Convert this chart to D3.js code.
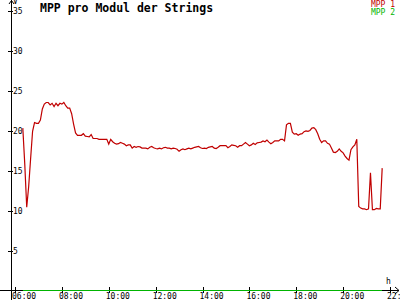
<!DOCTYPE html>
<html>
<head>
<meta charset="utf-8">
<script src="https://cdn.jsdelivr.net/npm/d3@7"></script>
<style>
  body { margin: 0; background: #fff; }
  svg { display: block; }
  text { font-family: "DejaVu Sans Mono", monospace; }
</style>
</head>
<body>
<svg id="chart" width="400" height="300"></svg>
<script>
const title = "MPP pro Modul der Strings";
const seriesNames = ["MPP 1", "MPP 2"];

const times = [
  "06:20", "06:25", "06:30", "06:35", "06:40", "06:45", "06:50", "06:55",
  "07:00", "07:05", "07:10", "07:15", "07:20", "07:25", "07:30", "07:35", "07:40", "07:45", "07:50", "07:55",
  "08:00", "08:05", "08:10", "08:15", "08:20", "08:25", "08:30", "08:35", "08:40", "08:45", "08:50", "08:55",
  "09:00", "09:05", "09:10", "09:15", "09:20", "09:25", "09:30", "09:35", "09:40", "09:45", "09:50", "09:55",
  "10:00", "10:05", "10:10", "10:15", "10:20", "10:25", "10:30", "10:35", "10:40", "10:45", "10:50", "10:55",
  "11:00", "11:05", "11:10", "11:15", "11:20", "11:25", "11:30", "11:35", "11:40", "11:45", "11:50", "11:55",
  "12:00", "12:05", "12:10", "12:15", "12:20", "12:25", "12:30", "12:35", "12:40", "12:45", "12:50", "12:55",
  "13:00", "13:05", "13:10", "13:15", "13:20", "13:25", "13:30", "13:35", "13:40", "13:45", "13:50", "13:55",
  "14:00", "14:05", "14:10", "14:15", "14:20", "14:25", "14:30", "14:35", "14:40", "14:45", "14:50", "14:55",
  "15:00", "15:05", "15:10", "15:15", "15:20", "15:25", "15:30", "15:35", "15:40", "15:45", "15:50", "15:55",
  "16:00", "16:05", "16:10", "16:15", "16:20", "16:25", "16:30", "16:35", "16:40", "16:45", "16:50", "16:55",
  "17:00", "17:05", "17:10", "17:15", "17:20", "17:25", "17:30", "17:35", "17:40", "17:45", "17:50", "17:55",
  "18:00", "18:05", "18:10", "18:15", "18:20", "18:25", "18:30", "18:35", "18:40", "18:45", "18:50", "18:55",
  "19:00", "19:05", "19:10", "19:15", "19:20", "19:25", "19:30", "19:35", "19:40", "19:45", "19:50", "19:55",
  "20:00", "20:05", "20:10", "20:15", "20:20", "20:25", "20:30", "20:35", "20:40", "20:45", "20:50", "20:55",
  "21:00", "21:05", "21:10", "21:15", "21:20", "21:25", "21:30", "21:35", "21:40"
];

// MPP 1 voltage per module (V)
const mpp1 = [
  20.3, 15.8, 10.4, 13.0, 16.5, 19.9, 21.0, 20.9,
  20.9, 21.3, 22.7, 23.3, 23.5, 23.5, 23.2, 23.4, 23.0, 23.4, 23.1, 23.4,
  23.3, 23.5, 23.1, 22.8, 22.8, 22.1, 20.8, 19.7, 19.4, 19.4, 19.4, 19.6,
  19.3, 19.25, 19.2, 19.5, 19.0, 19.0, 19.0, 18.9, 18.9, 18.9, 18.9, 18.9,
  18.3, 18.9, 18.6, 18.4, 18.3, 18.35, 18.5, 18.4, 18.3, 18.1, 18.2, 18.2,
  17.8, 18.0, 17.9, 18.0, 17.95, 17.8, 17.8, 17.8, 17.7, 17.9, 18.0, 17.85,
  17.75, 17.7, 17.8, 17.7, 17.85, 17.9, 17.8, 17.8, 17.7, 17.8, 17.75, 17.65,
  17.4, 17.6, 17.7, 17.6, 17.7, 17.8, 17.7, 17.8, 17.9, 17.95, 18.0, 17.85,
  17.75, 17.8, 17.75, 17.9, 17.95, 18.0, 17.8, 17.75, 17.9, 18.1, 18.1, 18.1,
  18.1, 17.85, 18.0, 18.2, 18.15, 18.1, 17.9, 18.1, 18.1, 18.3, 18.5, 18.3,
  18.1, 18.2, 18.4, 18.25, 18.45, 18.5, 18.55, 18.7, 18.6, 18.8, 18.55, 18.35,
  18.5, 18.7, 18.7, 18.7, 18.9, 18.9, 18.7, 20.7, 20.9, 20.9, 19.8, 19.55,
  19.6, 19.4, 19.55, 19.6, 19.85, 19.95, 19.9, 20.0, 20.3, 20.35, 20.1, 19.6,
  18.9, 18.5, 18.7, 18.7, 18.4, 18.3, 17.8, 17.3, 17.25, 17.4, 17.7, 17.4,
  17.2, 16.8, 16.5, 16.3, 17.6, 17.95, 18.2, 18.9, 10.5, 10.3, 10.2, 10.2,
  10.1, 10.2, 14.7, 10.1, 10.1, 10.25, 10.2, 10.2, 15.3
];

// MPP 2 stays at zero all day
const mpp2Times = ["06:20", "21:40"];
const mpp2 = [0, 0];

const xTickValues = ["06:00", "08:00", "10:00", "12:00", "14:00", "16:00", "18:00", "20:00", "22:00"];
const yTickValues = [5, 10, 15, 20, 25, 30, 35];

const red = "#c00000";
const green = "#00b400";

const width = 400;
const height = 300;
const axisX = 11.5;
const axisY = 290.5;

const hours = (s) => {
  const [h, m] = s.split(":").map(Number);
  return h + m / 60;
};

const x = d3.scaleLinear().domain([6, 22]).range([15, 390]);
const y = d3.scaleLinear().domain([0, 35]).range([axisY, 10.5]);

const svg = d3.select("#chart");

// y axis
const yAxis = d3.axisLeft(y)
  .tickValues(yTickValues)
  .tickSize(3)
  .tickFormat(d3.format("d"));

const gy = svg.append("g")
  .attr("transform", `translate(${axisX},0)`)
  .call(yAxis);
gy.select(".domain").remove();
gy.selectAll(".tick line")
  .attr("x1", -3.5).attr("x2", 1.5)
  .attr("stroke", "#000")
  .attr("shape-rendering", "crispEdges");
gy.selectAll(".tick text")
  .attr("x", 1.5)
  .attr("dy", "0.35em")
  .attr("text-anchor", "start")
  .attr("font-family", "DejaVu Sans Mono")
  .attr("font-size", 8)
  .attr("fill", "#000");

// x axis
const xAxis = d3.axisBottom(x)
  .tickValues(xTickValues.map(hours))
  .tickSize(3)
  .tickFormat((d, i) => xTickValues[i]);

const gx = svg.append("g")
  .attr("transform", `translate(0,${axisY})`)
  .call(xAxis);
gx.select(".domain").remove();
gx.selectAll(".tick line")
  .attr("y1", -3.5).attr("y2", 2)
  .attr("stroke", "#000")
  .attr("shape-rendering", "crispEdges");
gx.selectAll(".tick text")
  .attr("x", -3.5)
  .attr("y", 8.5)
  .attr("dy", 0)
  .attr("text-anchor", "start")
  .attr("font-family", "DejaVu Sans Mono")
  .attr("font-size", 8)
  .attr("fill", "#000");

// axis lines with arrow heads
const axes = svg.append("g")
  .attr("stroke", "#000")
  .attr("fill", "none")
  .attr("shape-rendering", "crispEdges");
axes.append("line").attr("x1", axisX).attr("x2", axisX).attr("y1", 0).attr("y2", height);
axes.append("line").attr("x1", 0).attr("x2", width - 1).attr("y1", axisY).attr("y2", axisY);
svg.append("path")
  .attr("d", `M${axisX - 2.5},4 L${axisX},0.5 L${axisX + 2.5},4`)
  .attr("stroke", "#000").attr("fill", "none");
svg.append("path")
  .attr("d", `M${width - 5},${axisY - 3.5} L${width - 1},${axisY} L${width - 5},${axisY + 3.5}`)
  .attr("stroke", "#000").attr("fill", "none");

svg.append("text")
  .attr("x", axisX + 1.5).attr("y", 4)
  .attr("font-size", 8)
  .text("V");
svg.append("text")
  .attr("x", 386).attr("y", 284)
  .attr("font-size", 8)
  .text("h");

// series
const line = d3.line()
  .x((d) => x(hours(d[0])))
  .y((d) => y(d[1]));

svg.append("path")
  .datum(mpp2Times.map((t, i) => [t, mpp2[i]]))
  .attr("d", line)
  .attr("fill", "none")
  .attr("stroke", green)
  .attr("stroke-width", 1.5)
  .attr("shape-rendering", "crispEdges");

svg.append("path")
  .datum(times.map((t, i) => [t, mpp1[i]]))
  .attr("d", line)
  .attr("fill", "none")
  .attr("stroke", red)
  .attr("stroke-width", 1.2);

// title and legend
svg.append("text")
  .attr("x", 40).attr("y", 11.5)
  .attr("font-size", 11.5)
  .attr("font-weight", "bold")
  .text(title);

svg.selectAll(".legend")
  .data(seriesNames)
  .join("text")
  .attr("class", "legend")
  .attr("x", 395)
  .attr("y", (d, i) => 7 + i * 8)
  .attr("text-anchor", "end")
  .attr("font-size", 8)
  .attr("fill", (d, i) => i === 0 ? red : green)
  .text((d) => d);
</script>
</body>
</html>
